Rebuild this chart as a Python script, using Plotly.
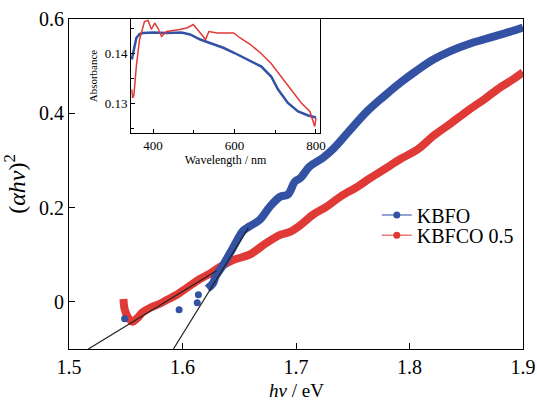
import plotly.graph_objects as go

# ---- main panel data: (alpha h nu)^2 vs h nu ----
kbfo_x = [1.622, 1.627, 1.629, 1.635, 1.642, 1.648, 1.653, 1.659, 1.668, 1.677,
          1.686, 1.693, 1.699, 1.704, 1.712, 1.724, 1.733, 1.746, 1.763, 1.778,
          1.792, 1.806, 1.821, 1.836, 1.851, 1.866, 1.880, 1.890, 1.900]
kbfo_y = [0.028, 0.040, 0.053, 0.075, 0.104, 0.130, 0.150, 0.160, 0.174, 0.202,
          0.223, 0.228, 0.255, 0.263, 0.287, 0.306, 0.325, 0.360, 0.405, 0.437,
          0.465, 0.490, 0.514, 0.532, 0.546, 0.557, 0.567, 0.574, 0.582]
kbfo_scatter_x = [1.549, 1.597, 1.613, 1.614]
kbfo_scatter_y = [-0.036, -0.017, -0.002, 0.015]

kbfco_x = [1.548, 1.549, 1.552, 1.556, 1.560, 1.565, 1.572, 1.580, 1.586, 1.595,
           1.604, 1.615, 1.624, 1.633, 1.645, 1.659, 1.667, 1.674, 1.686, 1.695,
           1.704, 1.715, 1.727, 1.739, 1.754, 1.765, 1.777, 1.792, 1.807, 1.821,
           1.836, 1.851, 1.866, 1.880, 1.890, 1.900]
kbfco_y = [0.006, -0.015, -0.033, -0.042, -0.035, -0.022, -0.012, -0.004, 0.004, 0.015,
           0.030, 0.048, 0.060, 0.074, 0.089, 0.100, 0.113, 0.125, 0.142, 0.149,
           0.163, 0.185, 0.202, 0.223, 0.244, 0.262, 0.280, 0.303, 0.323, 0.352,
           0.378, 0.405, 0.430, 0.455, 0.470, 0.487]

# tangent (Tauc) fit lines
fit1_x = [1.517, 1.630]
fit1_y = [-0.100, 0.066]
fit2_x = [1.592, 1.658]
fit2_y = [-0.100, 0.157]

# ---- inset data: absorbance vs wavelength ----
inset_blue_wl = [348, 352, 359, 367, 375, 400, 433, 470, 491, 516, 541, 574, 600,
                 625, 649, 666, 690, 707, 731, 756, 781, 800]
inset_blue_abs = [0.1387, 0.1405, 0.1430, 0.1438, 0.1440, 0.1441, 0.1440, 0.1441,
                  0.1437, 0.1427, 0.1420, 0.1410, 0.1400, 0.1390, 0.1380, 0.1373,
                  0.1353, 0.1327, 0.1300, 0.1283, 0.1275, 0.1271]
inset_red_wl = [348, 350, 353, 359, 367, 379, 388, 396, 404, 412, 421, 433, 466,
                483, 499, 516, 529, 537, 558, 598, 614, 639, 664, 689, 714, 739,
                764, 785, 797, 800]
inset_red_abs = [0.1327, 0.1310, 0.1315, 0.1373, 0.1427, 0.1463, 0.1465, 0.1447,
                 0.1460, 0.1450, 0.1433, 0.1443, 0.1447, 0.1450, 0.1457, 0.1440,
                 0.1427, 0.1443, 0.1440, 0.1440, 0.1430, 0.1417, 0.1400, 0.1380,
                 0.1353, 0.1327, 0.1300, 0.1283, 0.1253, 0.1270]

BLUE = "#3352a3"
RED = "#e03a36"
FONT = "Liberation Serif, Times New Roman, serif"

fig = go.Figure()

fig.add_trace(go.Scatter(x=kbfco_x, y=kbfco_y, mode="lines",
                         line=dict(color=RED, width=8, shape="spline"),
                         showlegend=False))
fig.add_trace(go.Scatter(x=kbfo_x, y=kbfo_y, mode="lines",
                         line=dict(color=BLUE, width=8, shape="spline"),
                         showlegend=False))
fig.add_trace(go.Scatter(x=kbfo_scatter_x, y=kbfo_scatter_y, mode="markers",
                         marker=dict(color=BLUE, size=7), showlegend=False))
fig.add_trace(go.Scatter(x=fit1_x, y=fit1_y, mode="lines",
                         line=dict(color="#222222", width=1.2), showlegend=False))
fig.add_trace(go.Scatter(x=fit2_x, y=fit2_y, mode="lines",
                         line=dict(color="#222222", width=1.2), showlegend=False))

# legend entries (two separate legends for tight spacing)
fig.add_trace(go.Scatter(x=[None], y=[None], mode="lines+markers", name="KBFO",
                         line=dict(color="#6f86c4", width=1.5),
                         marker=dict(color=BLUE, size=7), legend="legend"))
fig.add_trace(go.Scatter(x=[None], y=[None], mode="lines+markers", name="KBFCO 0.5",
                         line=dict(color="#ec7a76", width=1.5),
                         marker=dict(color=RED, size=7), legend="legend2"))

# inset
fig.add_trace(go.Scatter(x=inset_blue_wl, y=inset_blue_abs, mode="lines",
                         line=dict(color=BLUE, width=2.5), xaxis="x2", yaxis="y2",
                         showlegend=False))
fig.add_trace(go.Scatter(x=inset_red_wl, y=inset_red_abs, mode="lines",
                         line=dict(color=RED, width=1.5), xaxis="x2", yaxis="y2",
                         showlegend=False))

legend_common = dict(xanchor="left", yanchor="middle", bgcolor="rgba(0,0,0,0)",
                     font=dict(size=20), itemwidth=30)

fig.update_layout(
    width=537, height=403,
    margin=dict(l=69, r=14, t=19, b=54, autoexpand=False),
    paper_bgcolor="white", plot_bgcolor="white",
    font=dict(family=FONT, size=20, color="black"),
    xaxis=dict(range=[1.5, 1.9], tickvals=[1.5, 1.6, 1.7, 1.8, 1.9],
               ticktext=["1.5", "1.6", "1.7", "1.8", "1.9"],
               ticks="inside", ticklen=6, tickcolor="black",
               showline=True, linecolor="black", linewidth=1.2, mirror=True,
               showgrid=False, zeroline=False, automargin=False),
    yaxis=dict(range=[-0.1, 0.6], tickvals=[0, 0.2, 0.4, 0.6],
               ticktext=["0", "0.2", "0.4", "0.6"],
               ticks="inside", ticklen=6, tickcolor="black",
               showline=True, linecolor="black", linewidth=1.2, mirror=True,
               showgrid=False, zeroline=False, automargin=False,
               title=dict(text="(<i>αhν</i>)<sup>2</sup>", standoff=6)),
    xaxis2=dict(domain=[0.1366, 0.553], anchor="y2", range=[346, 810],
                tickvals=[400, 600, 800], ticks="inside", ticklen=4,
                tickcolor="black", tickfont=dict(size=13), automargin=False,
                minor=dict(tickvals=[500, 700], ticks="inside", ticklen=3,
                           tickcolor="black"),
                showline=True, linecolor="black", linewidth=1, mirror=True,
                showgrid=False, zeroline=False,
                title=dict(text="Wavelength / nm", font=dict(size=12), standoff=2)),
    yaxis2=dict(domain=[0.6545, 1.0], anchor="x2", range=[0.124, 0.1468],
                tickvals=[0.13, 0.14], ticktext=["0.13", "0.14"],
                ticks="inside", ticklen=4, tickcolor="black",
                tickfont=dict(size=13), automargin=False,
                minor=dict(tickvals=[0.125, 0.135, 0.145], ticks="inside",
                           ticklen=3, tickcolor="black"),
                showline=True, linecolor="black", linewidth=1, mirror=True,
                showgrid=False, zeroline=False,
                title=dict(text="Absorbance", font=dict(size=11), standoff=4)),
    legend=dict(x=0.678, y=0.406, **legend_common),
    legend2=dict(x=0.678, y=0.345, **legend_common),
    annotations=[dict(text="<i>hν</i> / eV", xref="paper", yref="paper",
                      x=0.5, y=-0.125, xanchor="center", yanchor="middle",
                      showarrow=False, font=dict(size=19))],
)

fig.write_html("out.html",
               config={"displayModeBar": False},
               post_script="document.body.style.margin='0';"
                           "document.body.style.overflow='hidden';")
